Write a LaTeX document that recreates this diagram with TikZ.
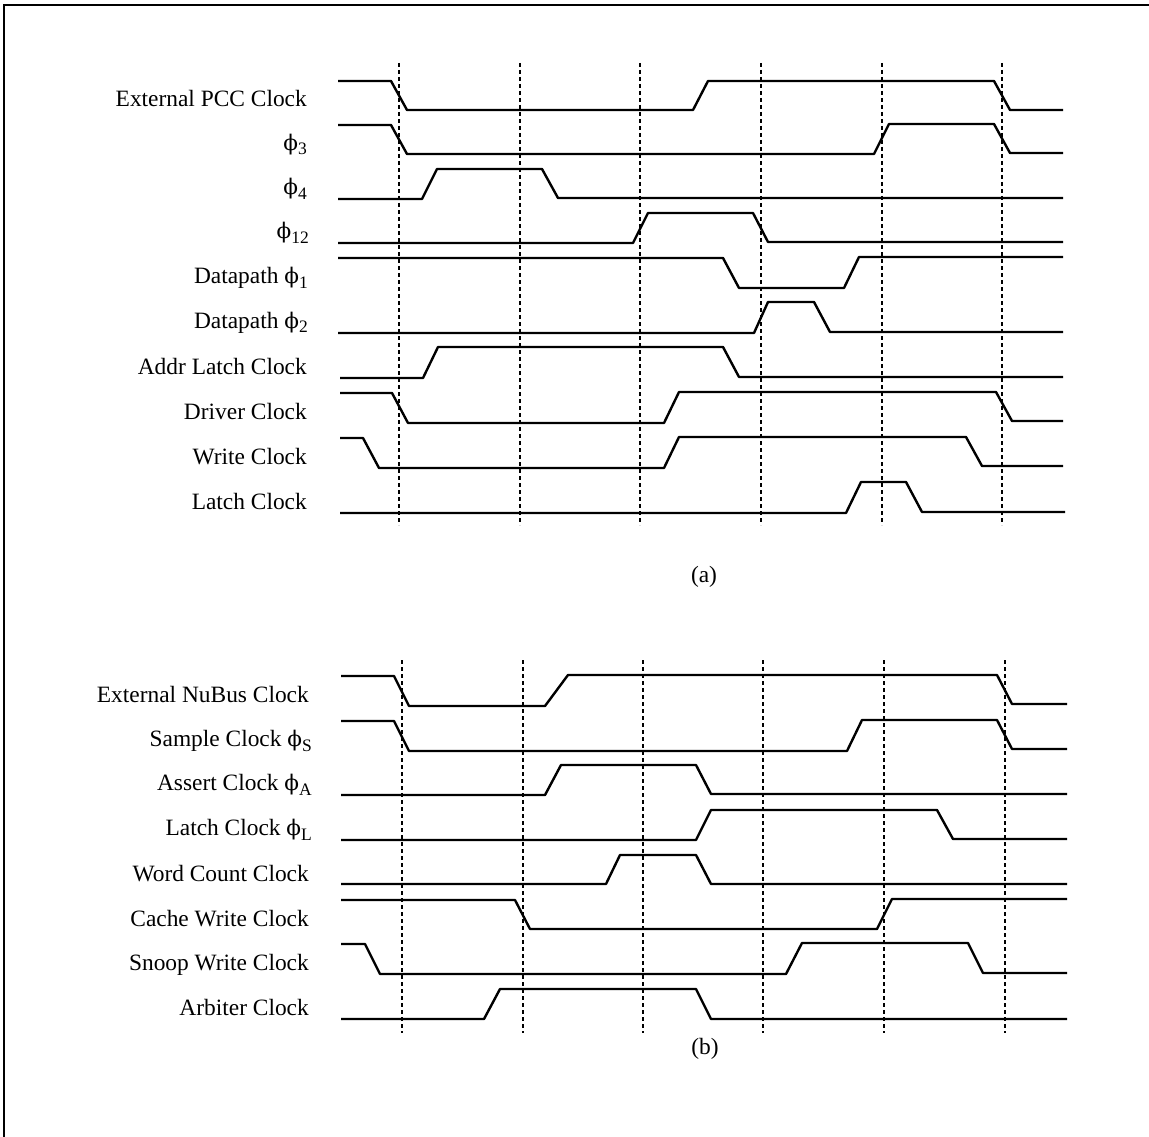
\documentclass[tikz,border=0pt]{standalone}
\usepackage{fontspec}
\setmainfont{Liberation Serif}
\newfontfamily\phifont[Scale=0.92]{DejaVu Serif}
\newcommand{\ph}[1]{{\phifont ϕ}\raisebox{-4.5pt}{\fontsize{17.5}{18}\selectfont #1}}

\begin{document}
\begin{tikzpicture}[
    x=1pt,y=-1pt,
    wave/.style={draw,black,line width=2.4pt,line join=round},
    cyc/.style={draw,black,line width=1.4pt,dash pattern=on 4pt off 3pt},
    lbl/.style={anchor=base east,inner sep=0pt,font=\fontsize{23.4}{28}\selectfont},
    sublabel/.style={inner sep=0pt,font=\fontsize{23.4}{28}\selectfont}
    ]
    \useasboundingbox (0,0) rectangle (1149,1137);
    \draw[line width=1.5pt] (4,1137) -- (4,5) -- (1149,5);
    % (a)
    \foreach \x in {399,520,640,761,882,1002}
      \draw[cyc] (\x,63) -- (\x,525);
    \draw[wave] (338,81) -- (391,81) -- (407,110) -- (693,110) -- (708,81) -- (994,81) -- (1010,110) -- (1063,110);
    \draw[wave] (338,125) -- (391,125) -- (407,154) -- (874,154) -- (889,124) -- (994,124) -- (1010,153) -- (1063,153);
    \draw[wave] (338,199) -- (422,199) -- (437,169) -- (542,169) -- (558,198) -- (1063,198);
    \draw[wave] (338,243) -- (633,243) -- (648,213) -- (753,213) -- (768,242) -- (1063,242);
    \draw[wave] (338,258) -- (723,258) -- (739,288) -- (844,288) -- (859,257) -- (1063,257);
    \draw[wave] (338,333) -- (754,333) -- (768,302) -- (814,302) -- (830,332) -- (1063,332);
    \draw[wave] (340,378) -- (423,378) -- (438,347) -- (723,347) -- (739,377) -- (1063,377);
    \draw[wave] (340,393) -- (392,393) -- (408,423) -- (664,423) -- (679,392) -- (996,392) -- (1012,421) -- (1063,421);
    \draw[wave] (340,438) -- (363,438) -- (379,468) -- (664,468) -- (679,437) -- (966,437) -- (982,466) -- (1063,466);
    \draw[wave] (340,513) -- (846,513) -- (861,482) -- (906,482) -- (922,512) -- (1065,512);
    \node[lbl] (pcc) at (307,107) {External PCC Clock};
    \node[lbl] (p3) at (307,150) {\ph{3}};
    \node[lbl] (p4) at (307,194.5) {\ph{4}};
    \node[lbl] (p12) at (309,238.5) {\ph{12}};
    \node[lbl] (dp1) at (308,283.5) {Datapath \ph{1}};
    \node[lbl] (dp2) at (308,328) {Datapath \ph{2}};
    \node[lbl] (addr) at (307,374) {Addr Latch Clock};
    \node[lbl] (drv) at (307,419.5) {Driver Clock};
    \node[lbl] (wr) at (307,464.5) {Write Clock};
    \node[lbl] (lat) at (307,509) {Latch Clock};
    \node[sublabel] (capa) at (704,577) {(a)};
    % (b)
    \foreach \x in {402,523,643,763,884,1005}
      \draw[cyc] (\x,660) -- (\x,1033);
    \draw[wave] (341,676) -- (394,676) -- (409,706) -- (545,706) -- (568,675) -- (997,675) -- (1012,704) -- (1067,704);
    \draw[wave] (341,721) -- (394,721) -- (409,751) -- (847,751) -- (862,720) -- (997,720) -- (1012,749) -- (1067,749);
    \draw[wave] (341,795) -- (545,795) -- (561,765) -- (696,765) -- (711,794) -- (1067,794);
    \draw[wave] (341,840) -- (696,840) -- (711,810) -- (937,810) -- (953,839) -- (1067,839);
    \draw[wave] (341,884) -- (606,884) -- (620,855) -- (696,855) -- (711,884) -- (1067,884);
    \draw[wave] (341,900) -- (515,900) -- (530,929) -- (877,929) -- (892,899) -- (1067,899);
    \draw[wave] (341,944) -- (365,944) -- (380,974) -- (786,974) -- (802,943) -- (968,943) -- (983,973) -- (1067,973);
    \draw[wave] (341,1019) -- (484,1019) -- (500,989) -- (696,989) -- (711,1019) -- (1067,1019);
    \node[lbl] (nubus) at (309,702.5) {External NuBus Clock};
    \node[lbl] (smp) at (312,746.5) {Sample Clock \ph{S}};
    \node[lbl] (asr) at (312,790.5) {Assert Clock \ph{A}};
    \node[lbl] (ltc) at (312,835.5) {Latch Clock \ph{L}};
    \node[lbl] (wcnt) at (309,881) {Word Count Clock};
    \node[lbl] (cwr) at (309,926) {Cache Write Clock};
    \node[lbl] (snp) at (309,970.5) {Snoop Write Clock};
    \node[lbl] (arb) at (309,1015.5) {Arbiter Clock};
    \node[sublabel] (capb) at (705,1049) {(b)};
  \end{tikzpicture}
\end{document}
